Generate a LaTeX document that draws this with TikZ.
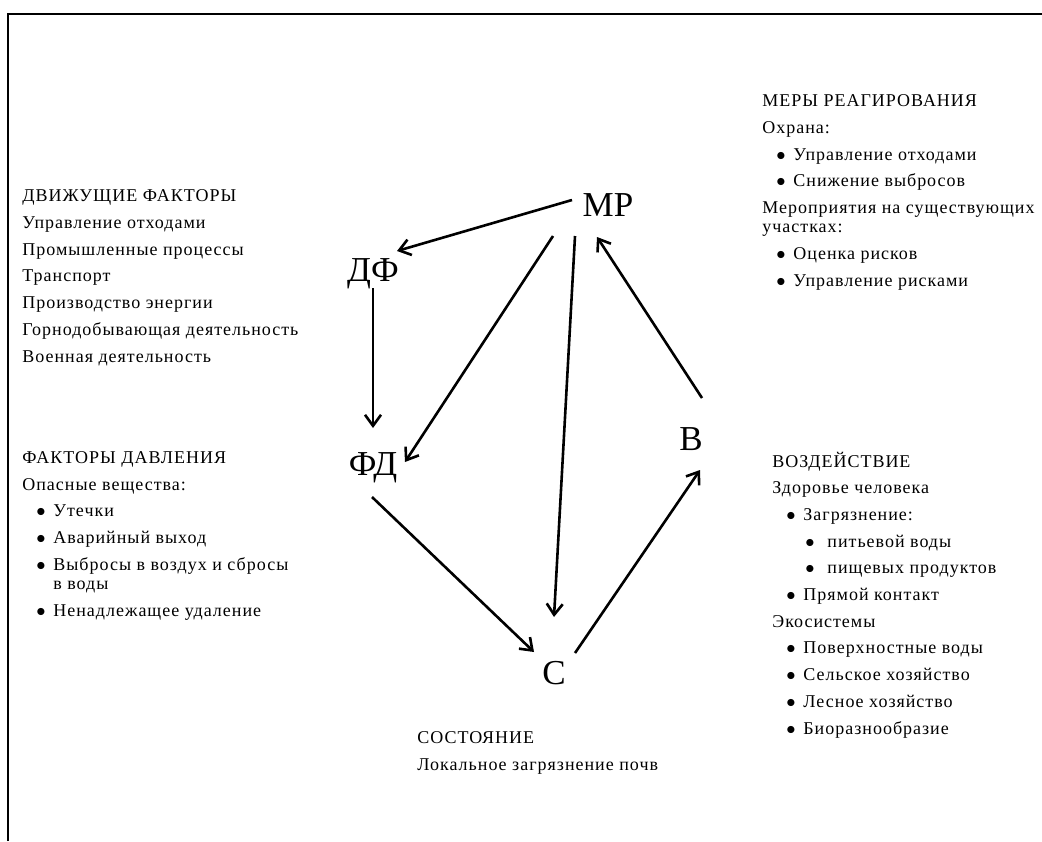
\documentclass[tikz,border=0pt]{standalone}
\usepackage{fontspec}
\setmainfont{Liberation Serif}[LetterSpace=5.5]
\newfontfamily\letterfont{Liberation Serif}
\usetikzlibrary{arrows.meta}

\newcommand{\nextline}{\\[3.75pt]}
\newcommand{\itm}[1]{\hspace*{7pt}\makebox[8.5pt][l]{$\bullet$}#1}
\newcommand{\subitm}[1]{\hspace*{16.5pt}\makebox[11pt][l]{$\bullet$}#1}

\begin{document}
\begin{tikzpicture}[x=0.5pt, y=-0.5pt,
  letter/.style={font=\letterfont\fontsize{17.5}{20}\selectfont, inner sep=0pt, anchor=base},
  block/.style={font=\fontsize{9}{9.6}\selectfont, inner sep=0pt, anchor=base west, align=left},
  arr/.style={line width=1.3pt, -{Straight Barb[length=5.5pt,width=8pt]}}
  ]
  \useasboundingbox (0,0) rectangle (1042,841);
  \draw[line width=1pt] (8,841) -- (8,13.5) -- (1042,13.5);

  % letters of the cycle
  \node[letter] (mr) at (608,216) {МР};
  \node[letter] (df) at (373,281) {ДФ};
  \node[letter] (fd) at (373,475) {ФД};
  \node[letter] (vz) at (691,450) {В};
  \node[letter] (st) at (554,684) {С};

  % arrows
  \draw[arr] ([shift={(-36,-16)}]mr.base) -- ([shift={(24,-30)}]df.base);
  \draw[arr] ([shift={(0,7)}]df.base) -- ([shift={(0,-47)}]fd.base);
  \draw[arr] ([shift={(-55,20)}]mr.base) -- ([shift={(32,-13)}]fd.base);
  \draw[arr] ([shift={(-33,20)}]mr.base) -- ([shift={(0,-67)}]st.base);
  \draw[arr] ([shift={(11,-52)}]vz.base) -- ([shift={(-11,21)}]mr.base);
  \draw[arr] ([shift={(-1,22)}]fd.base) -- ([shift={(-20,-32)}]st.base);
  \draw[arr] ([shift={(21,-31)}]st.base) -- ([shift={(9,20)}]vz.base);

  % text blocks (placed at the baseline of their last line)
  \node[block] (dfText) at (22,362) {ДВИЖУЩИЕ ФАКТОРЫ\nextline
    Управление отходами\nextline
    Промышленные процессы\nextline
    Транспорт\nextline
    Производство энергии\nextline
    Горнодобывающая деятельность\nextline
    Военная деятельность};
  \node[block] (fdText) at (22,616) {ФАКТОРЫ ДАВЛЕНИЯ\nextline
    Опасные вещества:\nextline
    \itm{Утечки}\nextline
    \itm{Аварийный выход}\nextline
    \itm{Выбросы в воздух и сбросы}\\
    \hspace*{15.5pt}в воды\nextline
    \itm{Ненадлежащее удаление}};
  \node[block] (mrText) at (762,286) {МЕРЫ РЕАГИРОВАНИЯ\nextline
    Охрана:\nextline
    \itm{Управление отходами}\nextline
    \itm{Снижение выбросов}\nextline
    Мероприятия на существующих\\
    участках:\nextline
    \itm{Оценка рисков}\nextline
    \itm{Управление рисками}};
  \node[block] (vzText) at (772,734) {ВОЗДЕЙСТВИЕ\nextline
    Здоровье человека\nextline
    \itm{Загрязнение:}\nextline
    \subitm{питьевой воды}\nextline
    \subitm{пищевых продуктов}\nextline
    \itm{Прямой контакт}\nextline
    Экосистемы\nextline
    \itm{Поверхностные воды}\nextline
    \itm{Сельское хозяйство}\nextline
    \itm{Лесное хозяйство}\nextline
    \itm{Биоразнообразие}};
  \node[block] (stText) at (417,770) {СОСТОЯНИЕ\nextline
    Локальное загрязнение почв};
\end{tikzpicture}
\end{document}
